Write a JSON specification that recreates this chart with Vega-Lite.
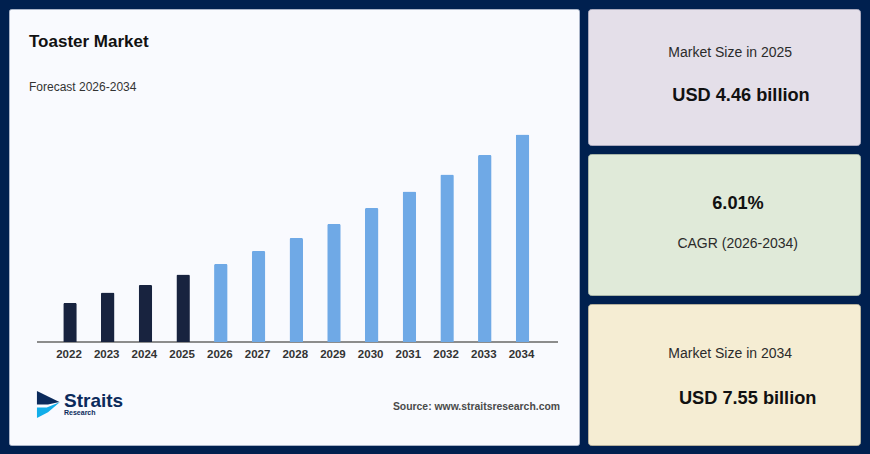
{
  "$schema": "https://vega.github.io/schema/vega-lite/v6.json",
  "description": "Toaster market size forecast with three summary cards.",
  "background": "#00204f",
  "padding": {"left": 8, "top": 8, "right": 12, "bottom": 10},
  "spacing": 7,
  "config": {
    "font": "Liberation Sans",
    "concat": {"spacing": 7},
    "text": {"font": "Liberation Sans"}
  },
  "hconcat": [
    {
      "width": 570,
      "height": 436,
      "view": {"fill": "#f9fafe", "stroke": "#aab4c8", "cornerRadius": 2},
      "layer": [
        {
          "data": {"values": [{"baseline": 0}]},
          "mark": {"type": "rule", "color": "#8c8c8c", "strokeWidth": 2},
          "encoding": {
            "y": {"field": "baseline", "type": "quantitative", "scale": {"domain": [0, 210], "range": [333, 123]}, "axis": null},
            "x": {"value": 28},
            "x2": {"value": 549}
          }
        },
        {
          "data": {
            "values": [
              {"year": "2022", "value": 39, "phase": "Historical"},
              {"year": "2023", "value": 49.5, "phase": "Historical"},
              {"year": "2024", "value": 57, "phase": "Historical"},
              {"year": "2025", "value": 67.5, "phase": "Historical"},
              {"year": "2026", "value": 78, "phase": "Forecast"},
              {"year": "2027", "value": 91, "phase": "Forecast"},
              {"year": "2028", "value": 104, "phase": "Forecast"},
              {"year": "2029", "value": 118, "phase": "Forecast"},
              {"year": "2030", "value": 134, "phase": "Forecast"},
              {"year": "2031", "value": 150.5, "phase": "Forecast"},
              {"year": "2032", "value": 167.5, "phase": "Forecast"},
              {"year": "2033", "value": 187, "phase": "Forecast"},
              {"year": "2034", "value": 207.5, "phase": "Forecast"}
            ]
          },
          "mark": {"type": "bar", "size": 13.5, "cornerRadiusTopLeft": 1.5, "cornerRadiusTopRight": 1.5},
          "encoding": {
            "x": {
              "field": "year",
              "type": "ordinal",
              "scale": {"range": [42.15, 532.35], "paddingInner": 0, "paddingOuter": 0},
              "axis": {
                "title": null,
                "orient": "bottom",
                "offset": -103,
                "domain": false,
                "ticks": false,
                "grid": false,
                "labelAngle": 0,
                "labelPadding": 6,
                "labelOffset": -1,
                "labelFont": "Liberation Sans",
                "labelFontSize": 11.5,
                "labelFontWeight": "bold",
                "labelColor": "#333333"
              }
            },
            "y": {"field": "value", "type": "quantitative", "scale": {"domain": [0, 210], "range": [333, 123]}, "axis": null},
            "color": {
              "field": "phase",
              "type": "nominal",
              "scale": {"domain": ["Historical", "Forecast"], "range": ["#18233f", "#6fa9e6"]},
              "legend": null
            }
          }
        },
        {
          "data": {"values": [{"label": "Toaster Market"}]},
          "mark": {"type": "text", "align": "left", "baseline": "middle", "fontSize": 17, "fontWeight": "bold", "color": "#111111"},
          "encoding": {"text": {"field": "label"}, "x": {"value": 20}, "y": {"value": 33}}
        },
        {
          "data": {"values": [{"label": "Forecast 2026-2034"}]},
          "mark": {"type": "text", "align": "left", "baseline": "middle", "fontSize": 12, "color": "#333333"},
          "encoding": {"text": {"field": "label"}, "x": {"value": 20}, "y": {"value": 78}}
        },
        {
          "data": {"values": [{"label": "Source: www.straitsresearch.com"}]},
          "mark": {"type": "text", "align": "right", "baseline": "middle", "fontSize": 10.4, "fontWeight": "bold", "color": "#4a4a4a"},
          "encoding": {"text": {"field": "label"}, "x": {"value": 551}, "y": {"value": 398}}
        },
        {
          "data": {"values": [{"label": "Straits"}]},
          "mark": {"type": "text", "align": "left", "baseline": "middle", "fontSize": 19, "fontWeight": "bold", "color": "#0b2a5b"},
          "encoding": {"text": {"field": "label"}, "x": {"value": 55}, "y": {"value": 391.5}}
        },
        {
          "data": {"values": [{"label": "Research"}]},
          "mark": {"type": "text", "align": "left", "baseline": "middle", "fontSize": 7, "fontWeight": "bold", "color": "#0b2a5b"},
          "encoding": {"text": {"field": "label"}, "x": {"value": 55}, "y": {"value": 404}}
        },
        {
          "data": {"values": [{"part": "logo top"}]},
          "mark": {
            "type": "point",
            "filled": true,
            "opacity": 1,
            "color": "#0b2a5b",
            "size": 576,
            "shape": "M -0.92 -1.12 L 0.95 -0.2 L 0 0 L -0.92 0 Z"
          },
          "encoding": {"x": {"value": 39}, "y": {"value": 395.5}}
        },
        {
          "data": {"values": [{"part": "logo bottom"}]},
          "mark": {
            "type": "point",
            "filled": true,
            "opacity": 1,
            "color": "#12aeea",
            "size": 576,
            "shape": "M -0.92 0.25 L -0.1 0.25 L 1 -0.2 L 0 0.65 L -0.92 1.12 Z"
          },
          "encoding": {"x": {"value": 39}, "y": {"value": 395.5}}
        }
      ]
    },
    {
      "vconcat": [
        {
          "width": 272,
          "height": 136,
          "view": {"fill": "#e4dfe9", "stroke": "#a9a9bd", "cornerRadius": 3},
          "layer": [
            {
              "data": {"values": [{"label": "Market Size in 2025"}]},
              "mark": {"type": "text", "align": "center", "baseline": "middle", "fontSize": 14, "color": "#2b2b2b"},
              "encoding": {"text": {"field": "label"}, "x": {"value": 142.2}, "y": {"value": 44}}
            },
            {
              "data": {"values": [{"label": "USD 4.46 billion"}]},
              "mark": {"type": "text", "align": "center", "baseline": "middle", "fontSize": 18.2, "fontWeight": "bold", "color": "#111111"},
              "encoding": {"text": {"field": "label"}, "x": {"value": 153}, "y": {"value": 86.5}}
            }
          ]
        },
        {
          "width": 272,
          "height": 141,
          "view": {"fill": "#e0ead9", "stroke": "#a8b5a8", "cornerRadius": 3},
          "layer": [
            {
              "data": {"values": [{"label": "6.01%"}]},
              "mark": {"type": "text", "align": "center", "baseline": "middle", "fontSize": 18.2, "fontWeight": "bold", "color": "#111111"},
              "encoding": {"text": {"field": "label"}, "x": {"value": 150}, "y": {"value": 49.5}}
            },
            {
              "data": {"values": [{"label": "CAGR (2026-2034)"}]},
              "mark": {"type": "text", "align": "center", "baseline": "middle", "fontSize": 14, "color": "#2b2b2b"},
              "encoding": {"text": {"field": "label"}, "x": {"value": 149.7}, "y": {"value": 90}}
            }
          ]
        },
        {
          "width": 272,
          "height": 141,
          "view": {"fill": "#f5edd3", "stroke": "#b5b09c", "cornerRadius": 3},
          "layer": [
            {
              "data": {"values": [{"label": "Market Size in 2034"}]},
              "mark": {"type": "text", "align": "center", "baseline": "middle", "fontSize": 14, "color": "#2b2b2b"},
              "encoding": {"text": {"field": "label"}, "x": {"value": 142.2}, "y": {"value": 50}}
            },
            {
              "data": {"values": [{"label": "USD 7.55 billion"}]},
              "mark": {"type": "text", "align": "center", "baseline": "middle", "fontSize": 18.2, "fontWeight": "bold", "color": "#111111"},
              "encoding": {"text": {"field": "label"}, "x": {"value": 159.7}, "y": {"value": 94.5}}
            }
          ]
        }
      ]
    }
  ]
}
